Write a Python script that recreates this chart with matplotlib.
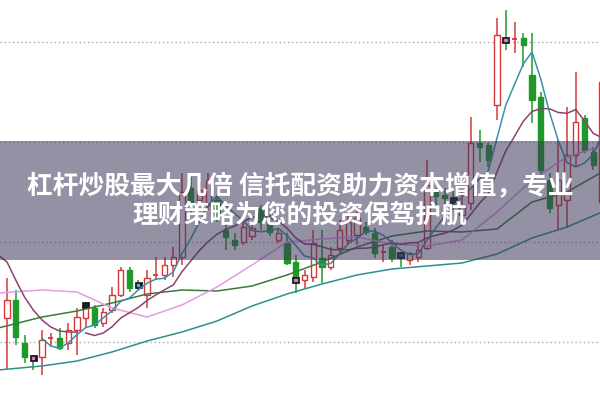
import matplotlib
matplotlib.use('Agg')
import matplotlib.pyplot as plt
from matplotlib.patches import Rectangle
import numpy as np
import pandas as pd

plt.rcParams['font.family'] = ['Noto Sans CJK SC', 'DejaVu Sans']

# ---- candle data (price units) ----
opens = [82, 100, 57, 43, 43, 62, 62, 57, 70, 82, 92, 77, 90, 105, 130, 115, 105, 125, 125, 135,
         143, 212, 200, 195, 200, 170, 160, 158, 164, 192, 178, 160, 157, 138, 120, 123, 142, 133, 152, 160,
         165, 173, 167, 148, 153, 145, 140, 143, 152, 208, 205, 202, 185, 197, 257, 255, 295, 360, 361, 362,
         325, 303, 220, 195, 200, 245, 282, 248, 198]
highs = [122, 110, 65, 45, 70, 67, 72, 77, 92, 95, 95, 92, 113, 133, 133, 120, 130, 143, 143, 153,
         227, 223, 218, 227, 205, 177, 167, 183, 178, 195, 185, 172, 167, 145, 130, 170, 170, 153, 180, 185,
         190, 178, 172, 155, 160, 148, 148, 157, 240, 212, 212, 210, 208, 283, 270, 257, 382, 390, 378, 367,
         367, 308, 227, 260, 293, 328, 285, 253, 320]
lows = [30, 55, 37, 30, 25, 53, 50, 50, 45, 73, 72, 73, 87, 103, 108, 110, 92, 120, 120, 123,
        135, 187, 195, 190, 178, 150, 150, 155, 160, 170, 164, 157, 135, 107, 112, 118, 117, 130, 147, 155,
        155, 165, 142, 138, 138, 133, 135, 138, 150, 195, 190, 190, 180, 190, 238, 233, 280, 350, 347, 333,
        277, 225, 187, 170, 172, 233, 247, 230, 190]
closes = [100, 63, 43, 42, 60, 62, 52, 70, 83, 95, 75, 88, 105, 130, 112, 115, 122, 125, 135, 143,
          208, 195, 210, 220, 185, 163, 155, 173, 172, 178, 168, 167, 137, 123, 125, 157, 133, 145, 170, 178,
          182, 168, 147, 148, 142, 144, 147, 150, 215, 204, 202, 200, 195, 257, 253, 240, 365, 359, 361, 355,
          300, 230, 192, 220, 245, 278, 250, 235, 318]

# signal markers
marker_idx = [3, 9, 15, 33, 45, 51, 57]
marker_lvl = [42, 95, 115, 120, 145, 200, 360]
marker_col = ['#e070e0', '#222222', '#40c0c0', '#e070e0', '#4a5a9a', '#222222', '#e070e0']

# moving-average lines (slow ones)
ma_idx = [-1, 4, 8, 12, 16, 20, 24, 28, 32, 36, 40, 44, 48, 52, 56, 60, 64, 68]
ma_pink = [107, 110, 108, 92, 83, 95, 113, 135, 158, 161, 163, 156, 154, 160, 188, 220, 243, 254]
ma_green = [72, 83, 89, 97, 106, 110, 109, 114, 125, 138, 153, 164, 169, 168, 171, 198, 208, 228]
ma_teal = [30, 34, 39, 48, 59, 68, 79, 94, 106, 116, 125, 131, 134, 137, 146, 162, 173, 188]
ma10_head_idx = [-1, 0, 1, 2, 3, 4, 5, 6, 7, 8]
ma10_head = [145, 138, 120, 103, 90, 80, 73, 69, 68, 68]

title1 = '杠杆炒股最大几倍 信托配资助力资本增值，专业'
title2 = '理财策略为您的投资保驾护航'

grid_levels = [358, 258, 158, 58]

fig = plt.figure(figsize=(6, 4), dpi=100)
ax = fig.add_axes([0, 0, 1, 1])
ax.set_xlim(-0.8, 67.77)
ax.set_ylim(0, 400)
ax.axis('off')

for g in grid_levels:
    ax.axhline(g, color='#a8a8a8', lw=1.0, ls=(0, (1, 2)), zorder=1)

up_col = '#d23a3a'
dn_col = '#1f9a2a'
w = 0.62
n = len(opens)
for i in range(n):
    o, h, l, c = opens[i], highs[i], lows[i], closes[i]
    if c > o:
        col = up_col
        ax.vlines(i, c, h, color=col, lw=1.1, zorder=3)
        ax.vlines(i, l, o, color=col, lw=1.1, zorder=3)
        ax.add_patch(Rectangle((i - w / 2, o), w, c - o, facecolor='white',
                               edgecolor=col, lw=1.0, zorder=3))
    elif c < o:
        col = dn_col
        ax.vlines(i, l, h, color=col, lw=1.1, zorder=3)
        ax.add_patch(Rectangle((i - w / 2, c), w, o - c, facecolor=col,
                               edgecolor=col, lw=1.0, zorder=3))
    else:
        col = up_col
        ax.vlines(i, l, h, color=col, lw=1.1, zorder=3)
        ax.hlines(c, i - w / 2, i + w / 2, color=col, lw=1.3, zorder=3)

for mi, ml, mc in zip(marker_idx, marker_lvl, marker_col):
    ax.add_patch(Rectangle((mi - 0.4, ml - 3), 0.8, 6, facecolor='#111111',
                           edgecolor='#111111', lw=0.5, zorder=4))
    ax.add_patch(Rectangle((mi - 0.2, ml - 1.5), 0.4, 3, facecolor=mc,
                           edgecolor=mc, lw=0.3, zorder=4))

s = pd.Series(closes, dtype=float)
x = np.arange(n)
ma5 = s.rolling(5).mean()
ma10 = s.rolling(10).mean()

ax.plot(ma_idx, ma_teal, color='#2f8f8c', lw=1.1, zorder=5)
ax.plot(ma_idx, ma_green, color='#3a7a36', lw=1.1, zorder=5)
ax.plot(ma_idx, ma_pink, color='#e39be6', lw=1.1, zorder=5)
ax.plot(ma10_head_idx, ma10_head, color='#8e4272', lw=1.1, zorder=5)
ax.plot(x[9:], ma10[9:], color='#8e4272', lw=1.1, zorder=5)
ax.plot(x[4:], ma5[4:], color='#3b90aa', lw=1.1, zorder=5)

# overlay band
ax.add_patch(Rectangle((0, 0.35), 1, 0.2975, transform=ax.transAxes,
                       facecolor=(60 / 255, 55 / 255, 90 / 255), alpha=0.55,
                       edgecolor='none', zorder=10))
ax.text(0.5, 0.535, title1, transform=ax.transAxes, ha='center', va='center',
        color='white', fontsize=18.5, fontweight='bold', zorder=11)
ax.text(0.5, 0.4625, title2, transform=ax.transAxes, ha='center', va='center',
        color='white', fontsize=18.5, fontweight='bold', zorder=11)

fig.savefig('out.png', dpi=100)
